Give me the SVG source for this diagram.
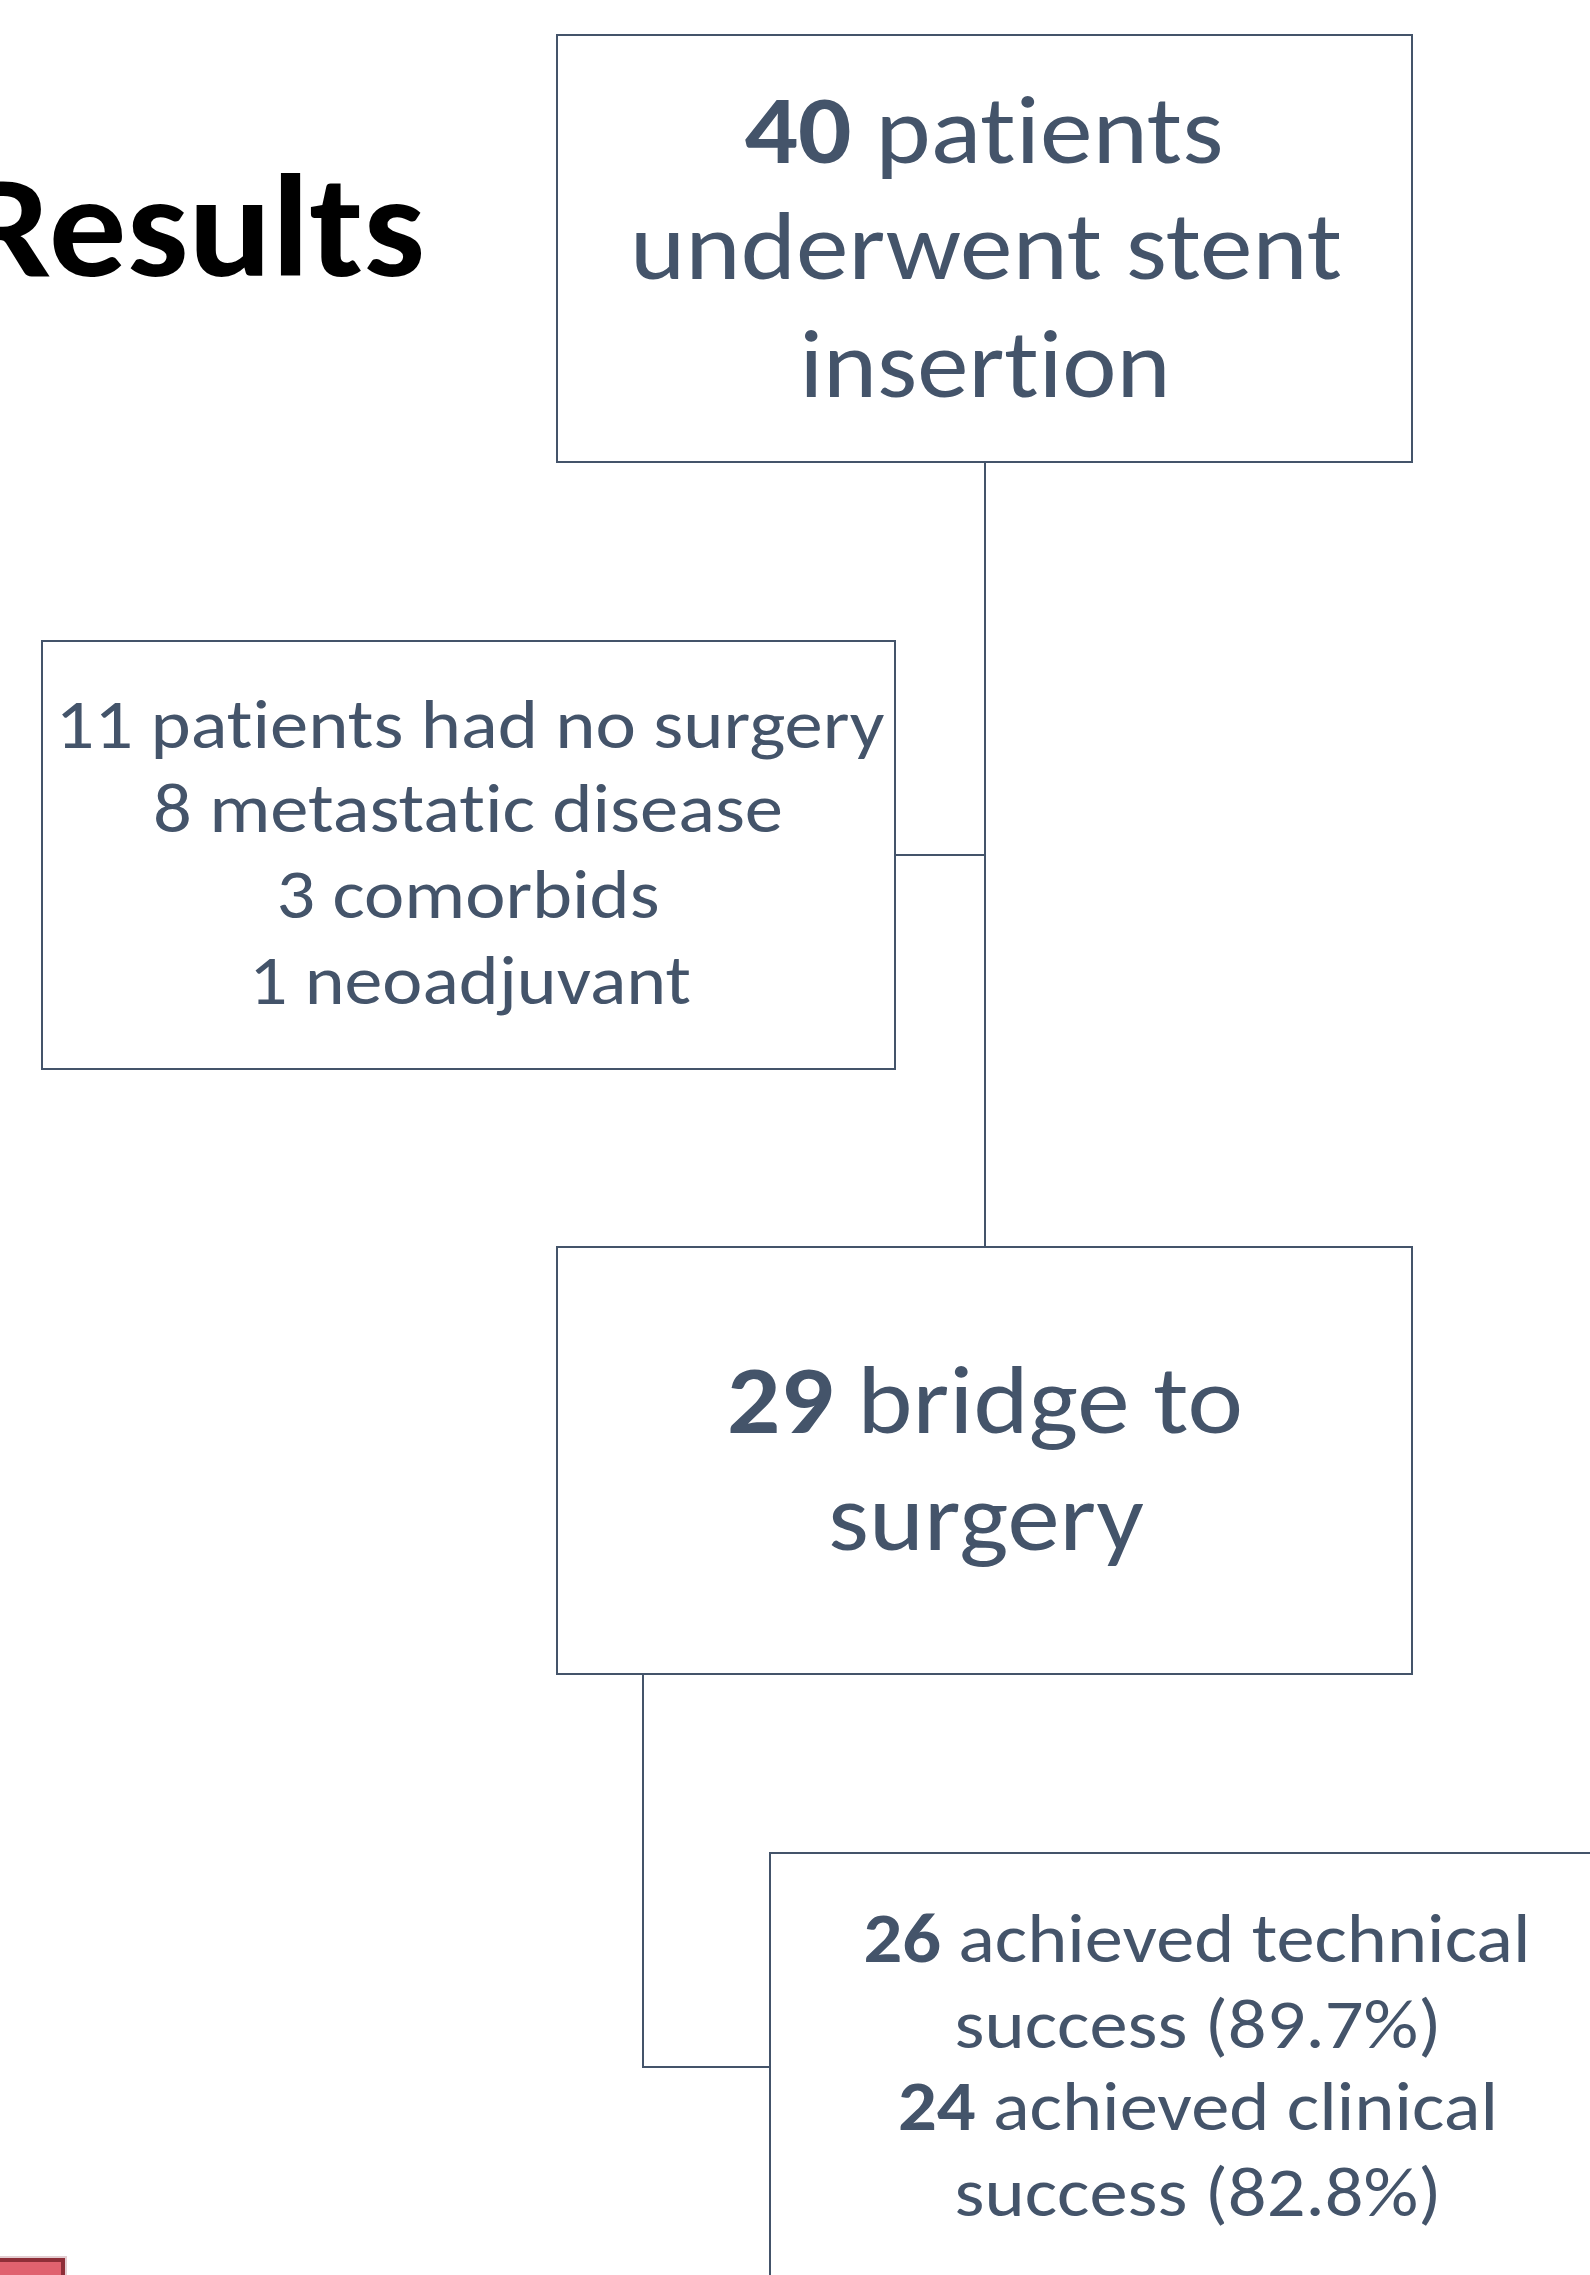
<svg xmlns="http://www.w3.org/2000/svg" width="1590" height="2275" viewBox="0 0 1590 2275">
  <style>
    text { font-variant-ligatures: none; font-feature-settings: "liga" 0, "clig" 0; }
    .box { fill: #FFFFFF; stroke: #44546A; stroke-width: 2; }
    .lbl { font-family: Carlito, Calibri, Lato, "Open Sans", sans-serif; fill: #44546A; text-anchor: middle; }
    .big { font-size: 97px; }
    .mid { font-size: 70px; }
    .b { font-weight: bold; }
    .conn { fill: none; stroke: #44546A; stroke-width: 2; }
  </style>
  <rect width="1590" height="2275" fill="#FFFFFF"/>

  <text x="425" y="276" text-anchor="end" font-family="Carlito, Calibri, Lato, 'Open Sans', sans-serif" font-weight="bold" font-size="145" fill="#000000" textLength="461" lengthAdjust="spacingAndGlyphs">Results</text>

  <g id="connectors">
    <path class="conn" d="M985,462 V1247"/>
    <path class="conn" d="M895,855 H985"/>
    <path class="conn" d="M643,1674 V2067 H770"/>
  </g>

  <g id="node-stent">
    <rect class="box" x="557" y="35" width="855" height="427"/>
    <text class="lbl big" x="984" y="163" textLength="479" lengthAdjust="spacingAndGlyphs"><tspan class="b">40</tspan> patients</text>
    <text class="lbl big" x="986" y="279" textLength="712" lengthAdjust="spacingAndGlyphs">underwent stent</text>
    <text class="lbl big" x="985" y="397" textLength="371" lengthAdjust="spacingAndGlyphs">insertion</text>
  </g>

  <g id="node-nosurgery">
    <rect class="box" x="42" y="641" width="853" height="428"/>
    <text class="lbl mid" x="470" y="748" textLength="829" lengthAdjust="spacingAndGlyphs">11 patients had no surgery</text>
    <text class="lbl mid" x="468" y="832" textLength="630" lengthAdjust="spacingAndGlyphs">8 metastatic disease</text>
    <text class="lbl mid" x="468" y="918" textLength="383" lengthAdjust="spacingAndGlyphs">3 comorbids</text>
    <text class="lbl mid" x="470" y="1004" textLength="442" lengthAdjust="spacingAndGlyphs">1 neoadjuvant</text>
  </g>

  <g id="node-bridge">
    <rect class="box" x="557" y="1247" width="855" height="427"/>
    <text class="lbl big" x="985" y="1433" textLength="516" lengthAdjust="spacingAndGlyphs"><tspan class="b">29</tspan> bridge to</text>
    <text class="lbl big" x="986" y="1550" textLength="316" lengthAdjust="spacingAndGlyphs">surgery</text>
  </g>

  <g id="node-success">
    <rect class="box" x="770" y="1853" width="900" height="500"/>
    <text class="lbl mid" x="1197" y="1962" textLength="667" lengthAdjust="spacingAndGlyphs"><tspan class="b">26</tspan> achieved technical</text>
    <text class="lbl mid" x="1198" y="2048" textLength="487" lengthAdjust="spacingAndGlyphs">success (89.7%)</text>
    <text class="lbl mid" x="1198" y="2130" textLength="600" lengthAdjust="spacingAndGlyphs"><tspan class="b">24</tspan> achieved clinical</text>
    <text class="lbl mid" x="1198" y="2216" textLength="487" lengthAdjust="spacingAndGlyphs">success (82.8%)</text>
  </g>

  <g id="red-shape">
    <rect x="-10" y="2256" width="77" height="40" fill="#E3CDD1"/>
    <rect x="-10" y="2260" width="73" height="40" fill="#E0626F" stroke="#8E2E38" stroke-width="4"/>
  </g>
</svg>
